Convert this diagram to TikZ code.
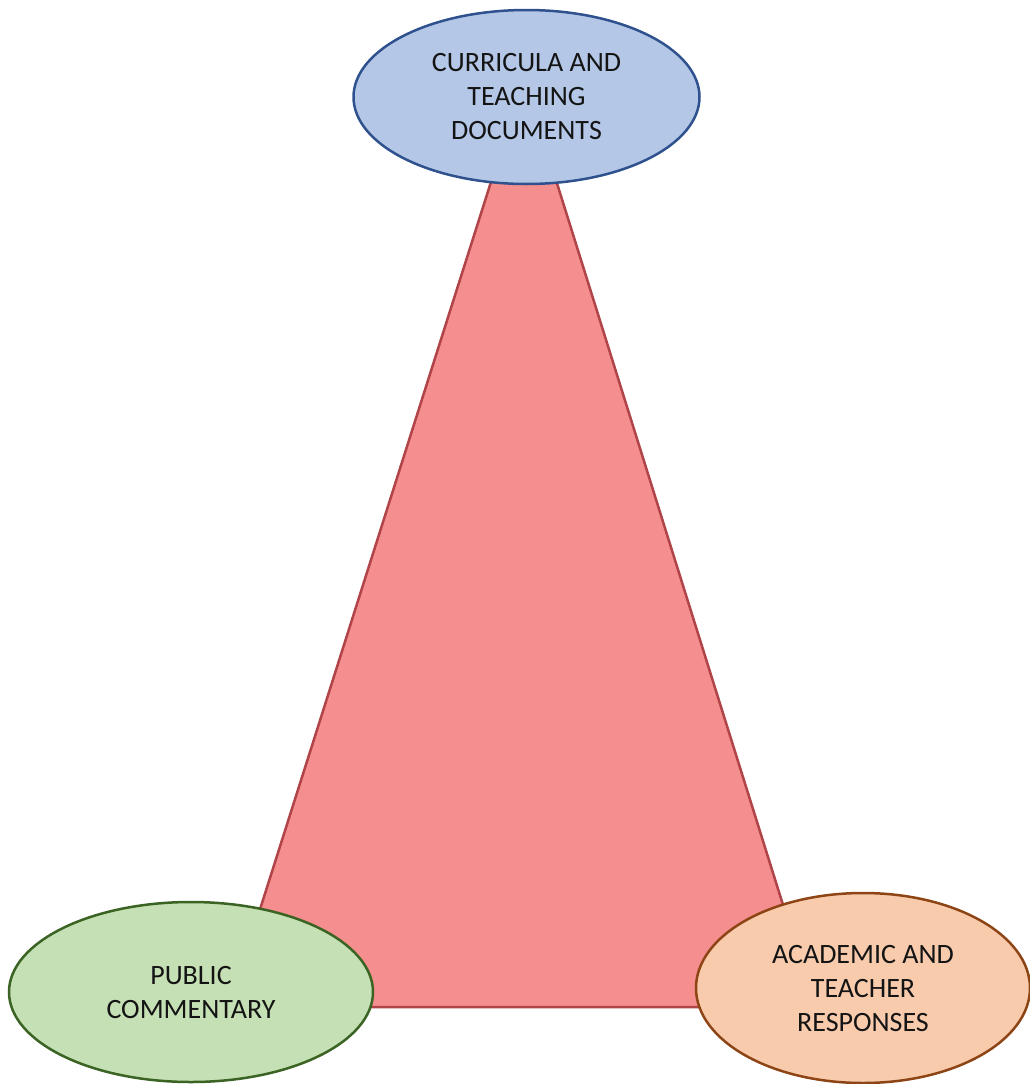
\documentclass[tikz,border=0pt]{standalone}
\usepackage{fontspec}
\setmainfont{Carlito}
\usetikzlibrary{shapes.geometric}
\definecolor{bluefill}{HTML}{B4C7E7}
\definecolor{blueline}{HTML}{2F528F}
\definecolor{redfill}{HTML}{F58E8E}
\definecolor{redline}{HTML}{B04448}
\definecolor{greenfill}{HTML}{C5E0B4}
\definecolor{greenline}{HTML}{3B6324}
\definecolor{orangefill}{HTML}{F8CBAD}
\definecolor{orangeline}{HTML}{8E4516}
\definecolor{txt}{HTML}{141414}
\tikzset{
  bubble/.style={ellipse, line width=2.5pt, inner sep=0pt, align=center,
    text=txt, font=\fontsize{28}{34}\selectfont},
}
\begin{document}
\begin{tikzpicture}[x=1pt,y=-1pt]
\useasboundingbox (0,0) rectangle (1030,1084);
\coordinate (apex) at (524,78);
\coordinate (bl) at (229,1007);
\coordinate (br) at (815,1007);
\filldraw[fill=redfill, draw=redline, line width=2.5pt, line join=miter] (apex) -- (bl) -- (br) -- cycle;
\node[bubble, fill=bluefill, draw=blueline, minimum width=346pt, minimum height=174pt]
  (top) at (526.5,97) {CURRICULA AND\\TEACHING\\DOCUMENTS};
\node[bubble, fill=greenfill, draw=greenline, minimum width=364pt, minimum height=180pt]
  (left) at (191,992) {PUBLIC\\COMMENTARY};
\node[bubble, fill=orangefill, draw=orangeline, minimum width=334pt, minimum height=190pt]
  (right) at (863,988) {ACADEMIC AND\\TEACHER\\RESPONSES};
\end{tikzpicture}
\end{document}
